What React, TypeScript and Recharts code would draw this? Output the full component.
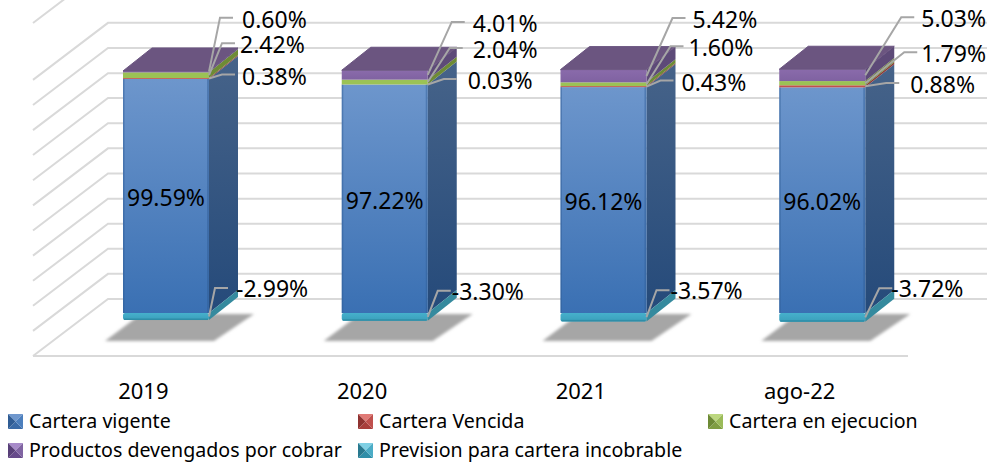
import React from 'react';
import { BarChart, Bar, XAxis, YAxis, CartesianGrid, Legend, LabelList } from 'recharts';

const periods = ['2019', '2020', '2021', 'ago-22'];
const carteraVigente = [99.59, 97.22, 96.12, 96.02];
const carteraVencida = [0.38, 0.03, 0.43, 0.88];
const carteraEjecucion = [2.42, 2.04, 1.6, 1.79];
const productosDevengados = [0.6, 4.01, 5.42, 5.03];
const prevision = [-2.99, -3.3, -3.57, -3.72];
const gridTicks = [-18.3, -7.6, 3.1, 13.7, 24.4, 35.1, 45.8, 56.5, 67.2, 77.8, 88.5, 99.2];

const data = periods.map((period, i) => ({
  period,
  vigente: carteraVigente[i],
  vencida: carteraVencida[i],
  ejecucion: carteraEjecucion[i],
  productos: productosDevengados[i],
  prevision: prevision[i],
}));

const FONT = '"Noto Sans", sans-serif';
const DEPTH_X = 29;
const DEPTH_Y = -23;
const WALL_X = 75;
const WALL_Y = -57;

const faces = {
  vigente: { side: 'sideBlue', front: 'frontBlue', icon: ['#6f97cd', '#3a6aa6', '#2f5c94', '#4c7fbd'] },
  vencida: { side: 'sideRed', front: 'frontRed', icon: ['#e07a76', '#a83e3b', '#8f3230', '#c0504d'] },
  ejecucion: { side: 'sideGreen', front: 'frontGreen', icon: ['#bcd77f', '#7f9d42', '#6d8a35', '#9bbb59'] },
  productos: { side: 'sidePurple', front: 'frontPurple', icon: ['#a78ac9', '#66498a', '#583f78', '#8064a2'] },
  prevision: { side: 'sideCyan', front: 'frontCyan', icon: ['#7fd0e4', '#2f8ea8', '#28798f', '#4bacc6'] },
};

// leader offsets per period: elbow dx from the bar edge, elbow dy from the segment middle, gap to the text
const leaders = {
  vencida: [[13, -4, 20], [16, -5.5, 24], [14, -6, 21], [21, -3.3, 24]],
  ejecucion: [[13, -32, 18], [22, -34, 23], [24, -38, 18], [39, -31, 17]],
  productos: [[11, -54, 22], [24, -53, 21], [26, -58, 20], [36, -58, 20]],
  prevision: [[6, -28.5, 21], [10, -26, 14], [10, -27, 14], [14, -29, 12]],
};

function Box({ x, y, width, height, seriesKey, top, shadow }: any) {
  const yy = height < 0 ? y + height : y;
  const h = Math.abs(height);
  const f = faces[seriesKey];
  const r = x + width;
  return (
    <g>
      {shadow && (
        <polygon
          points={`${x - 18},${yy + h + 28} ${r + 5},${yy + h + 28} ${r + 45},${yy + h + 1} ${x + 18},${yy + h + 1}`}
          fill="#a6a6a6"
          filter="url(#shadowBlur)"
        />
      )}
      <polygon
        points={`${r},${yy} ${r + DEPTH_X},${yy + DEPTH_Y} ${r + DEPTH_X},${yy + h + DEPTH_Y} ${r},${yy + h}`}
        fill={`url(#${f.side})`}
      />
      <rect x={x} y={yy} width={width} height={h} rx={seriesKey === 'prevision' ? 2 : 0} fill={`url(#${f.front})`} />
      {seriesKey === 'vigente' && (
        <g fill="#2f5c94" opacity={0.45}>
          <rect x={x} y={yy} width={1.5} height={h} />
          <rect x={r - 2} y={yy} width={2} height={h} />
        </g>
      )}
      {seriesKey === 'prevision' && <rect x={x + 1} y={yy + h - 1.5} width={width - 2} height={1.5} fill="#2f8ea8" />}
      {top && (
        <polygon
          points={`${x},${yy} ${r},${yy} ${r + DEPTH_X},${yy + DEPTH_Y} ${x + DEPTH_X},${yy + DEPTH_Y}`}
          fill="#6b5580"
          stroke="#6b5580"
          strokeLinejoin="round"
        />
      )}
    </g>
  );
}

function LeaderLabel({ x, y, width, height, value, index, seriesKey }: any) {
  const [dx, dy, gap] = leaders[seriesKey][index];
  const r = x + width;
  const mid = y + Number(height) / 2;
  const ex = r + dx;
  const ey = mid + dy;
  return (
    <g>
      <polyline points={`${r},${mid} ${ex},${ey} ${ex + 13},${ey}`} fill="none" stroke="#a6a6a6" strokeWidth={2} />
      <text x={ex + gap} y={seriesKey === 'prevision' ? ey : ey + 1} dominantBaseline="central" fontFamily={FONT} fontSize={23} fill="#000">
        {value.toFixed(2)}%
      </text>
    </g>
  );
}

function CenterLabel({ x, y, width, height, value }: any) {
  return (
    <text x={x + width / 2} y={y + height / 2 + 1} textAnchor="middle" dominantBaseline="central" fontFamily={FONT} fontSize={23} fill="#000">
      {value.toFixed(2)}%
    </text>
  );
}

function GridLine({ x1, y1, x2, index }: any) {
  return (
    <g key={index} stroke="#d9d9d9" strokeWidth={2} fill="none">
      <polyline points={`${x1 - 24},${y1} ${x1 + WALL_X - 24},${y1 + WALL_Y} ${x2 + 56},${y1 + WALL_Y}`} />
      {index === 0 && <line x1={x1 - 24} y1={y1} x2={x2 - 24} y2={y1} />}
    </g>
  );
}

function PeriodTick({ x, y, payload }: any) {
  return (
    <text x={x - 23} y={y + 26} textAnchor="middle" dominantBaseline="central" fontFamily={FONT} fontSize={22} fill="#000">
      {payload.value}
    </text>
  );
}

const legendColumns = [8, 358, 708];

function Swatch({ colors }: any) {
  const [t, b, l, r] = colors;
  return (
    <svg width={15} height={15} style={{ display: 'block' }}>
      <polygon points="0,0 15,0 7.5,7.5" fill={t} />
      <polygon points="0,15 15,15 7.5,7.5" fill={b} />
      <polygon points="0,0 0,15 7.5,7.5" fill={l} />
      <polygon points="15,0 15,15 7.5,7.5" fill={r} />
    </svg>
  );
}

function ChartLegend({ payload }: any) {
  return (
    <div style={{ position: 'relative', width: 987, height: 58 }}>
      {(payload || []).map((item, i) => (
        <div
          key={item.value}
          style={{
            position: 'absolute',
            left: legendColumns[i % 3],
            top: 4 + 29 * Math.floor(i / 3),
            display: 'flex',
            alignItems: 'center',
            gap: 6,
            fontFamily: FONT,
            fontSize: 19.6,
            lineHeight: '26px',
            color: '#000',
            whiteSpace: 'nowrap',
          }}
        >
          <Swatch colors={faces[item.dataKey].icon} />
          <span>{item.value}</span>
        </div>
      ))}
    </div>
  );
}

function gradient(id: string, from: string, to: string) {
  return (
    <linearGradient id={id} x1="0" y1="0" x2="0" y2="1">
      <stop offset="0%" stopColor={from} />
      <stop offset="100%" stopColor={to} />
    </linearGradient>
  );
}

export default function App() {
  return (
    <div style={{ position: 'absolute', left: 0, top: 0, width: 987, height: 462, overflow: 'hidden', background: '#fff' }}>
      <BarChart
        width={987}
        height={462}
        data={data}
        stackOffset="sign"
        barSize={86}
        margin={{ top: 23, right: 55, left: 57, bottom: 0 }}
      >
        <defs>
          {gradient('frontBlue', '#6d96cc', '#3a70b3')}
          {gradient('sideBlue', '#466389', '#254a7a')}
          {gradient('frontRed', '#c0504d', '#c0504d')}
          {gradient('sideRed', '#8c3a38', '#8c3a38')}
          {gradient('frontGreen', '#9bc255', '#9bc255')}
          {gradient('sideGreen', '#6e8b35', '#6e8b35')}
          {gradient('frontPurple', '#8a6bab', '#7f62a1')}
          {gradient('sidePurple', '#5d4a78', '#5d4a78')}
          {gradient('frontCyan', '#46b0cc', '#3a9fbb')}
          {gradient('sideCyan', '#358a9e', '#358a9e')}
          <filter id="shadowBlur" x="-10%" y="-20%" width="120%" height="140%">
            <feGaussianBlur stdDeviation="1.6" />
          </filter>
        </defs>
        <CartesianGrid vertical={false} horizontal={(props: any) => <GridLine {...props} />} />
        <XAxis dataKey="period" axisLine={false} tickLine={false} height={48} tick={<PeriodTick />} interval={0} />
        <YAxis hide domain={[-18.3, 123.4]} ticks={gridTicks} allowDataOverflow />
        <Legend
          verticalAlign="bottom"
          height={58}
          itemSorter={null}
          wrapperStyle={{ left: 0, width: 987 }}
          content={<ChartLegend />}
        />
        <Bar
          dataKey="vigente"
          name="Cartera vigente"
          stackId="a"
          isAnimationActive={false}
          shape={(p: any) => <Box {...p} seriesKey="vigente" shadow />}
        >
          <LabelList dataKey="vigente" content={<CenterLabel />} />
        </Bar>
        <Bar
          dataKey="vencida"
          name="Cartera Vencida"
          stackId="a"
          isAnimationActive={false}
          shape={(p: any) => <Box {...p} seriesKey="vencida" />}
        >
          <LabelList dataKey="vencida" content={<LeaderLabel seriesKey="vencida" />} />
        </Bar>
        <Bar
          dataKey="ejecucion"
          name="Cartera en ejecucion"
          stackId="a"
          isAnimationActive={false}
          shape={(p: any) => <Box {...p} seriesKey="ejecucion" />}
        >
          <LabelList dataKey="ejecucion" content={<LeaderLabel seriesKey="ejecucion" />} />
        </Bar>
        <Bar
          dataKey="productos"
          name="Productos devengados por cobrar"
          stackId="a"
          isAnimationActive={false}
          shape={(p: any) => <Box {...p} seriesKey="productos" top />}
        >
          <LabelList dataKey="productos" content={<LeaderLabel seriesKey="productos" />} />
        </Bar>
        <Bar
          dataKey="prevision"
          name="Prevision para cartera incobrable"
          stackId="a"
          isAnimationActive={false}
          shape={(p: any) => <Box {...p} seriesKey="prevision" />}
        >
          <LabelList dataKey="prevision" content={<LeaderLabel seriesKey="prevision" />} />
        </Bar>
      </BarChart>
    </div>
  );
}
